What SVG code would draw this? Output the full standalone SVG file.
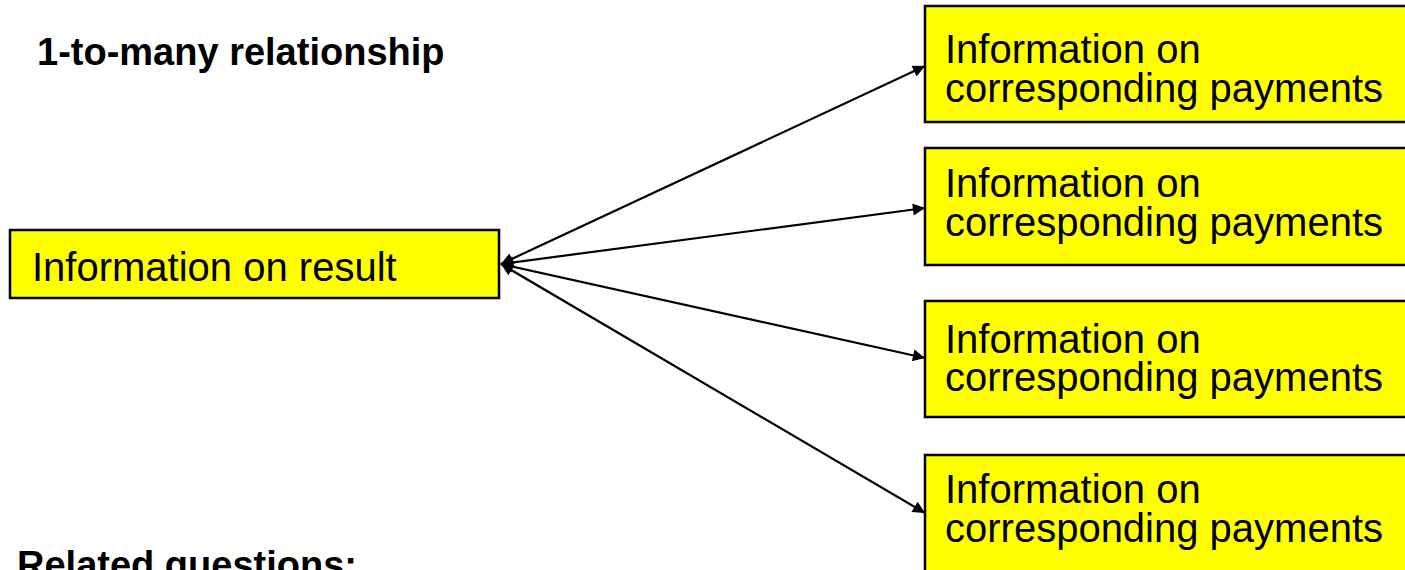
<svg xmlns="http://www.w3.org/2000/svg" width="1405" height="570" viewBox="0 0 1405 570">
<defs>
<style>
.box{fill:#ffff00;stroke:#000;stroke-width:2.5}
.t{font-family:"Liberation Sans",Arial,sans-serif;font-size:40px;fill:#000}
.h{font-family:"Liberation Sans",Arial,sans-serif;font-size:38px;font-weight:bold;fill:#000}
.c{stroke:#000;stroke-width:2.2;fill:none;marker-start:url(#a);marker-end:url(#a)}
</style>
<marker id="a" viewBox="0 0 10 10" refX="10" refY="5" markerWidth="7" markerHeight="5.5" orient="auto-start-reverse" markerUnits="strokeWidth">
<path d="M0,0 L10,5 L0,10 z" fill="#000"/>
</marker>
</defs>
<rect width="1405" height="570" fill="#fff"/>
<text class="h" x="37" y="65">1-to-many relationship</text>
<text class="h" x="17" y="578">Related questions:</text>
<g id="connectors">
<line class="c" x1="501" y1="264" x2="925" y2="66"/>
<line class="c" x1="501" y1="264" x2="925" y2="208"/>
<line class="c" x1="501" y1="264" x2="925" y2="358"/>
<line class="c" x1="501" y1="264" x2="925" y2="513"/>
</g>
<g id="result">
<rect class="box" x="10" y="230" width="489" height="68"/>
<text class="t" x="32" y="281">Information on result</text>
</g>
<g id="pay1">
<rect class="box" x="925" y="6" width="490" height="116"/>
<text class="t" x="945" y="63">Information on</text>
<text class="t" x="945" y="102">corresponding payments</text>
</g>
<g id="pay2">
<rect class="box" x="925" y="148" width="490" height="117"/>
<text class="t" x="945" y="197">Information on</text>
<text class="t" x="945" y="236">corresponding payments</text>
</g>
<g id="pay3">
<rect class="box" x="925" y="301" width="490" height="116"/>
<text class="t" x="945" y="353">Information on</text>
<text class="t" x="945" y="391">corresponding payments</text>
</g>
<g id="pay4">
<rect class="box" x="925" y="455" width="490" height="130"/>
<text class="t" x="945" y="503">Information on</text>
<text class="t" x="945" y="542">corresponding payments</text>
</g>
</svg>
